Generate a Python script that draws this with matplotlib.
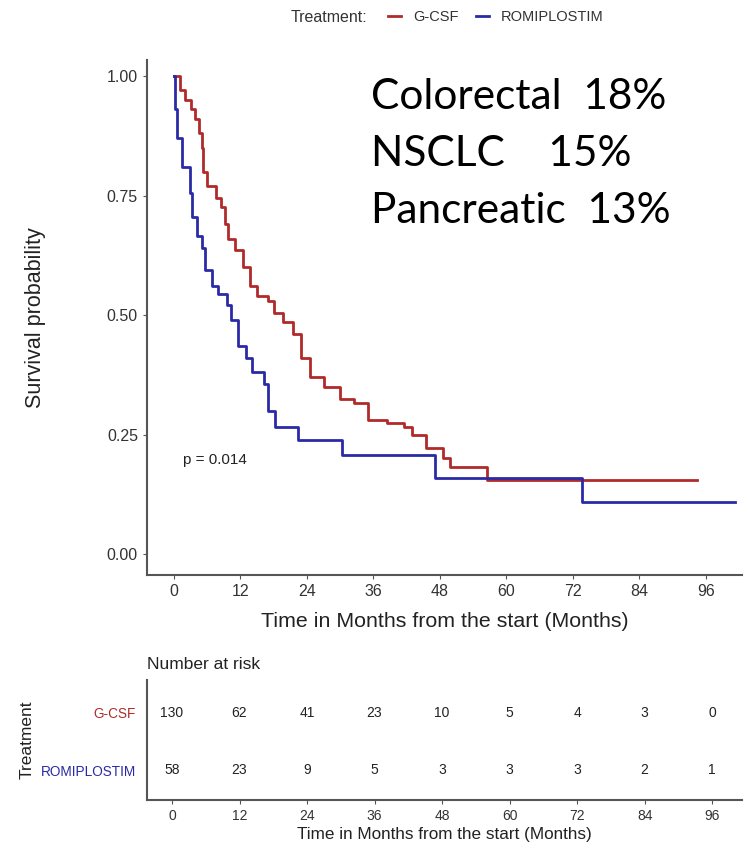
import matplotlib
matplotlib.use("Agg")
import matplotlib.pyplot as plt

plt.rcParams['font.family'] = ['Liberation Sans', 'DejaVu Sans']

# ---- data ----
groups = ["G-CSF", "ROMIPLOSTIM"]
colors = ["#b02a2a", "#2a2aa6"]

gcsf_t = [0, 1.0, 2.0, 3.0, 3.8, 4.5, 5.0, 5.2, 6.0, 7.5, 8.5, 9.2, 9.7, 11.0, 12.5, 13.7,
          15.0, 17.0, 18.0, 19.7, 21.5, 23.0, 24.5, 27.0, 30.0, 32.5, 35.0, 38.5, 41.5,
          43.0, 45.5, 48.5, 49.8, 56.5, 94.4]
gcsf_s = [1.0, 0.97, 0.95, 0.93, 0.91, 0.88, 0.85, 0.80, 0.77, 0.745, 0.725, 0.69, 0.66,
          0.635, 0.60, 0.56, 0.54, 0.53, 0.505, 0.485, 0.46, 0.41, 0.37, 0.35, 0.325, 0.315,
          0.28, 0.274, 0.265, 0.248, 0.222, 0.20, 0.182, 0.155, 0.155]

romi_t = [0, 0.2, 0.5, 1.5, 2.8, 3.2, 4.1, 5.0, 5.6, 6.9, 8.0, 9.5, 10.2, 11.5, 13.0, 14.0,
          16.3, 17.0, 18.2, 22.4, 30.3, 47.1, 73.6, 101.3]
romi_s = [1.0, 0.93, 0.87, 0.81, 0.755, 0.705, 0.665, 0.64, 0.595, 0.56, 0.545, 0.52, 0.49,
          0.435, 0.41, 0.38, 0.355, 0.30, 0.265, 0.238, 0.207, 0.159, 0.109, 0.109]

risk_times = [0, 12, 24, 36, 48, 60, 72, 84, 96]
risk_gcsf = [130, 62, 41, 23, 10, 5, 4, 3, 0]
risk_romi = [58, 23, 9, 5, 3, 3, 3, 2, 1]

yticks = [0.0, 0.25, 0.50, 0.75, 1.00]
ytick_labels = ["0.00", "0.25", "0.50", "0.75", "1.00"]

annot_lines = ["Colorectal  18%", "NSCLC    15%", "Pancreatic  13%"]
p_text = "p = 0.014"

# ---- figure ----
W, H = 744, 850
fig = plt.figure(figsize=(W / 100, H / 100), dpi=100)

def fx(px):
    return px / W

def fy(py):
    return 1 - py / H

spine_col = "#555555"
tick_col = "#333333"

ax = fig.add_axes([fx(147), fy(575), fx(742) - fx(147), fy(60) - fy(575)])
l1, = ax.step(gcsf_t, gcsf_s, where="post", color=colors[0], lw=2.0)
l2, = ax.step(romi_t, romi_s, where="post", color=colors[1], lw=2.0)
ax.set_xlim(-4.87, 102.5)
ax.set_ylim(-0.0439, 1.0335)
ax.set_xticks(risk_times)
ax.set_yticks(yticks)
ax.set_yticklabels(ytick_labels)
for s in ["top", "right"]:
    ax.spines[s].set_visible(False)
for s in ["left", "bottom"]:
    ax.spines[s].set_color(spine_col)
    ax.spines[s].set_linewidth(1.5)
ax.tick_params(axis="both", colors=spine_col, labelcolor=tick_col, labelsize=11.5, length=3)
ax.set_xlabel("Time in Months from the start (Months)", fontsize=15.4, color="#222222", labelpad=9)
ax.set_ylabel("Survival probability", fontsize=15.5, color="#222222", labelpad=44)
ax.text(1.6, 0.197, p_text, fontsize=11, color="#222222", va="center", ha="left")

for i, line in enumerate(annot_lines):
    fig.text(fx(371), fy(109 + 57 * i), line, fontsize=30.5, family=["Lato", "DejaVu Sans"],
             color="black", va="baseline", ha="left")

# legend
fig.text(fx(291), fy(17), "Treatment:", fontsize=11.5, color="#333333", va="center", ha="left")
fig.legend([l1, l2], groups, loc="center left", bbox_to_anchor=(fx(388), fy(17)), ncol=2,
           frameon=False, fontsize=10.5, handlelength=0.9, handletextpad=0.8, columnspacing=1.2,
           borderaxespad=0, borderpad=0, labelcolor="#333333")

# ---- risk table ----
axt = fig.add_axes([fx(147), fy(800), fx(742) - fx(147), fy(680) - fy(800)])
axt.set_xlim(-4.44, 101.3)
axt.set_ylim(0, 1)
row_y = [0.725, 0.25]
for t, n in zip(risk_times, risk_gcsf):
    axt.text(t, row_y[0], str(n), ha="center", va="center", fontsize=10, color="#222222")
for t, n in zip(risk_times, risk_romi):
    axt.text(t, row_y[1], str(n), ha="center", va="center", fontsize=10, color="#222222")
axt.set_xticks(risk_times)
axt.set_yticks(row_y)
axt.set_yticklabels(groups)
for lab, c in zip(axt.get_yticklabels(), colors):
    lab.set_color(c)
for s in ["top", "right"]:
    axt.spines[s].set_visible(False)
for s in ["left", "bottom"]:
    axt.spines[s].set_color(spine_col)
    axt.spines[s].set_linewidth(1.5)
axt.tick_params(axis="y", length=0, labelsize=9.8, pad=8)
axt.tick_params(axis="x", colors=spine_col, labelcolor=tick_col, labelsize=10, length=3)
axt.set_xlabel("Time in Months from the start (Months)", fontsize=12.3, color="#222222", labelpad=3)
axt.set_ylabel("Treatment", fontsize=12.5, color="#222222", labelpad=4)
axt.set_title("Number at risk", fontsize=12.5, color="#222222", loc="left", pad=8)

fig.savefig("out.png", dpi=100)
